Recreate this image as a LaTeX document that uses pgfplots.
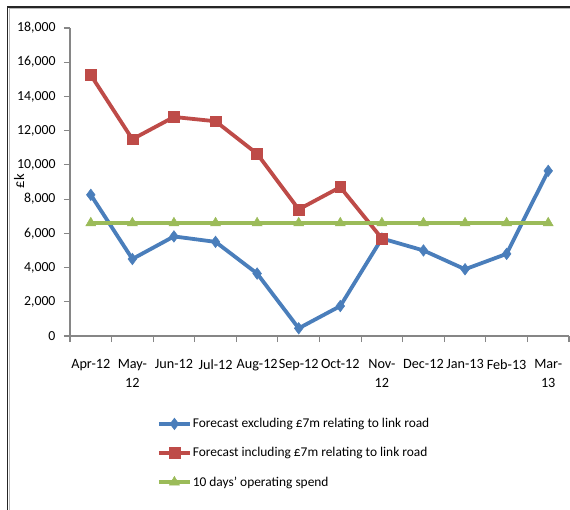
\documentclass[border=0pt]{standalone}
\usepackage{pgfplots}
\pgfplotsset{compat=1.18}
\usepackage{fontspec}
\setmainfont{Carlito}

\definecolor{exclblue}{HTML}{4A7EBB}
\definecolor{inclred}{HTML}{BE4B48}
\definecolor{spendgreen}{HTML}{9BBB59}
\definecolor{axisgray}{HTML}{868686}

\begin{document}
\begin{tikzpicture}
\useasboundingbox (-70bp,-174bp) rectangle (500bp,336bp);
% outer frame of the chart area
\draw[black!85, line width=1.6bp] (-62.5bp,-175bp) -- (-62.5bp,328.7bp) -- (501bp,328.7bp);
\draw[gray!55, line width=0.6bp] (-61bp,-175bp) -- (-61bp,327.2bp) -- (501bp,327.2bp);
\begin{axis}[
  at={(0,0)}, anchor=south west,
  scale only axis,
  width=499bp, height=308bp,
  xmin=-0.5, xmax=11.5,
  ymin=0, ymax=18000,
  axis x line*=bottom, axis y line*=left,
  axis line style={-, axisgray, line width=1.1bp},
  tick style={axisgray, line width=1.1bp},
  tick align=outside,
  major tick length=6bp,
  ytick={0,2000,...,18000},
  xtick={-0.5,0.5,...,11.5},
  x tick label as interval,
  xticklabels={Apr-12,{May-\\12},Jun-12,Jul-12,Aug-12,Sep-12,Oct-12,{Nov-\\12},Dec-12,Jan-13,Feb-13,{Mar-\\13}},
  x tick label style={align=center, font=\fontsize{14.2bp}{18.5bp}\selectfont, yshift=-14bp},
  y tick label style={font=\fontsize{13.8bp}{16bp}\selectfont, xshift=-5bp},
  /pgf/number format/.cd, 1000 sep={,}, assume math mode=true, /pgfplots/.cd,
  scaled y ticks=false,
  ylabel={£k},
  ylabel style={at={(axis description cs:-0.102,0.503)}, anchor=center, rotate=0, font=\fontsize{14.5bp}{16bp}\selectfont},
  legend style={at={(axis description cs:0.174,-0.264)}, anchor=north west,
    draw=none, fill=none, font=\fontsize{13.4bp}{15bp}\selectfont,
    row sep=16.3bp, inner sep=0pt, nodes={inner sep=1bp}},
  legend cell align=left,
  legend image code/.code={
    \draw[mark repeat=2, mark phase=2, #1] plot coordinates {(0bp,0bp) (15.5bp,0bp) (31bp,0bp)};
  },
  clip=false,
]
\addplot[exclblue, line width=3.8bp, mark=diamond*, mark size=5.8bp, mark options={solid, fill=exclblue, line width=0.5bp}]
  coordinates {(0,8250) (1,4500) (2,5820) (3,5500) (4,3650) (5,450) (6,1750) (7,5700) (8,5000) (9,3900) (10,4800) (11,9650)};
\addlegendentry{Forecast excluding £7m relating to link road}
\addplot[inclred, line width=3.8bp, mark=square*, mark size=5.4bp, mark options={solid, fill=inclred, line width=0.5bp}]
  coordinates {(0,15250) (1,11500) (2,12800) (3,12550) (4,10650) (5,7400) (6,8700) (7,5700)};
\addlegendentry{Forecast including £7m relating to link road}
\addplot[spendgreen, line width=3.8bp, mark=triangle*, mark size=5.8bp, mark options={solid, fill=spendgreen, line width=0.5bp}]
  coordinates {(0,6600) (1,6600) (2,6600) (3,6600) (4,6600) (5,6600) (6,6600) (7,6600) (8,6600) (9,6600) (10,6600) (11,6600)};
\addlegendentry{10 days' operating spend}
\end{axis}
\end{tikzpicture}
\end{document}
